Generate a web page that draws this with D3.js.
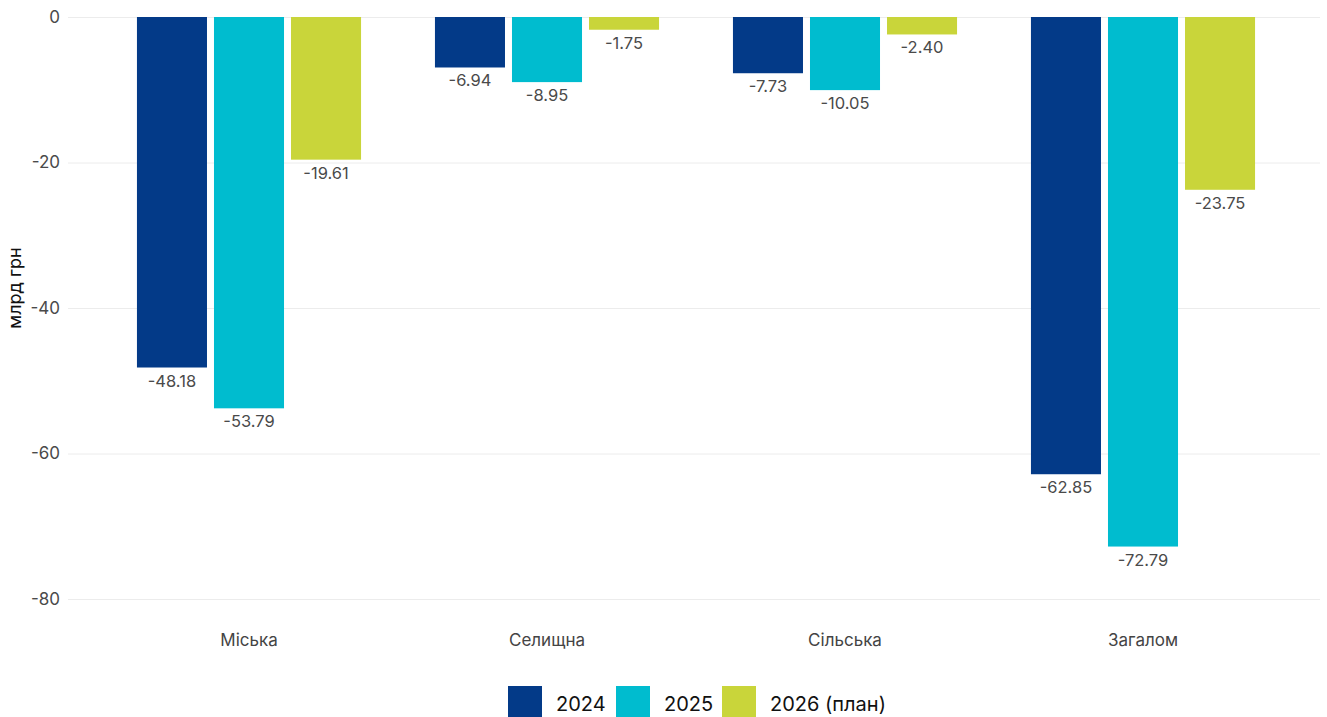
<!DOCTYPE html>
<html>
<head>
<meta charset="utf-8">
<script src="https://cdn.jsdelivr.net/npm/d3@7"></script>
<style>
  html, body { margin: 0; padding: 0; background: #fff; }
  svg { display: block; font-family: Inter, "Noto Sans", sans-serif; }
</style>
</head>
<body>
<svg id="chart" width="1327" height="717"></svg>
<script>
// Categories and series
const categories = ["Міська", "Селищна", "Сільська", "Загалом"];
const seriesNames = ["2024", "2025", "2026 (план)"];
const values2024 = [-48.18, -6.94, -7.73, -62.85];
const values2025 = [-53.79, -8.95, -10.05, -72.79];
const values2026 = [-19.61, -1.75, -2.40, -23.75];
const yTicks = [0, -20, -40, -60, -80];
const colors = ["#033a88", "#00bccf", "#c9d53a"];

const seriesValues = [values2024, values2025, values2026];
const rows = categories.map((c, i) => ({
  category: c,
  bars: seriesNames.map((s, j) => ({ series: s, value: seriesValues[j][i], idx: j }))
}));

const svg = d3.select("#chart");

const y = d3.scaleLinear().domain([0, -80]).range([17, 599]);
const x = d3.scaleBand().domain(categories).range([100, 1292])
  .paddingInner(0.248).paddingOuter(0.124);
const xSub = d3.scaleBand().domain(seriesNames).range([0, x.bandwidth()])
  .paddingInner(0.0909).paddingOuter(0);
const color = d3.scaleOrdinal().domain(seriesNames).range(colors);

// Gridlines and y tick labels (plain hyphen as minus sign)
const yAxis = d3.axisLeft(y).tickValues(yTicks).tickSize(-(1320 - 68)).tickPadding(8)
  .tickFormat(d => String(d));
const gy = svg.append("g").attr("transform", "translate(68,0)").call(yAxis);
gy.select(".domain").remove();
gy.selectAll(".tick line").attr("stroke", "#ececec").attr("stroke-width", 1);
gy.selectAll(".tick text").attr("fill", "#4a4a4a").attr("font-size", 17)
  .attr("font-family", "Inter, sans-serif");

// Y axis title
svg.append("text")
  .attr("transform", "translate(21,288) rotate(-90)")
  .attr("text-anchor", "middle")
  .attr("font-size", 18)
  .attr("fill", "#111")
  .text("млрд грн");

// Bars
const groups = svg.append("g").selectAll("g").data(rows).join("g")
  .attr("transform", d => `translate(${x(d.category)},0)`);

groups.selectAll("rect").data(d => d.bars).join("rect")
  .attr("x", d => xSub(d.series))
  .attr("y", y(0))
  .attr("width", xSub.bandwidth())
  .attr("height", d => y(d.value) - y(0))
  .attr("fill", d => color(d.series));

// Value labels under each bar
groups.selectAll("text.val").data(d => d.bars).join("text")
  .attr("class", "val")
  .attr("x", d => xSub(d.series) + xSub.bandwidth() / 2)
  .attr("y", d => y(d.value) + 19)
  .attr("text-anchor", "middle")
  .attr("font-size", 16.5)
  .attr("fill", "#4a4a4a")
  .text(d => d.value.toFixed(2));

// Category labels
const xAxis = d3.axisBottom(x).tickSize(0).tickPadding(0);
const gx = svg.append("g").attr("transform", "translate(0,634)").call(xAxis);
gx.select(".domain").remove();
gx.selectAll(".tick text").attr("fill", "#444").attr("font-size", 17)
  .attr("font-family", "Inter, sans-serif").attr("dy", "0.71em");

// Legend
const legendX = [508, 616, 722];
const legend = svg.append("g").selectAll("g").data(seriesNames).join("g")
  .attr("transform", (d, i) => `translate(${legendX[i]},686)`);
legend.append("rect").attr("width", 34).attr("height", 34)
  .attr("fill", d => color(d));
legend.append("text").attr("x", 48).attr("y", 25)
  .attr("font-size", 20).attr("fill", "#111")
  .text(d => d);
</script>
</body>
</html>
